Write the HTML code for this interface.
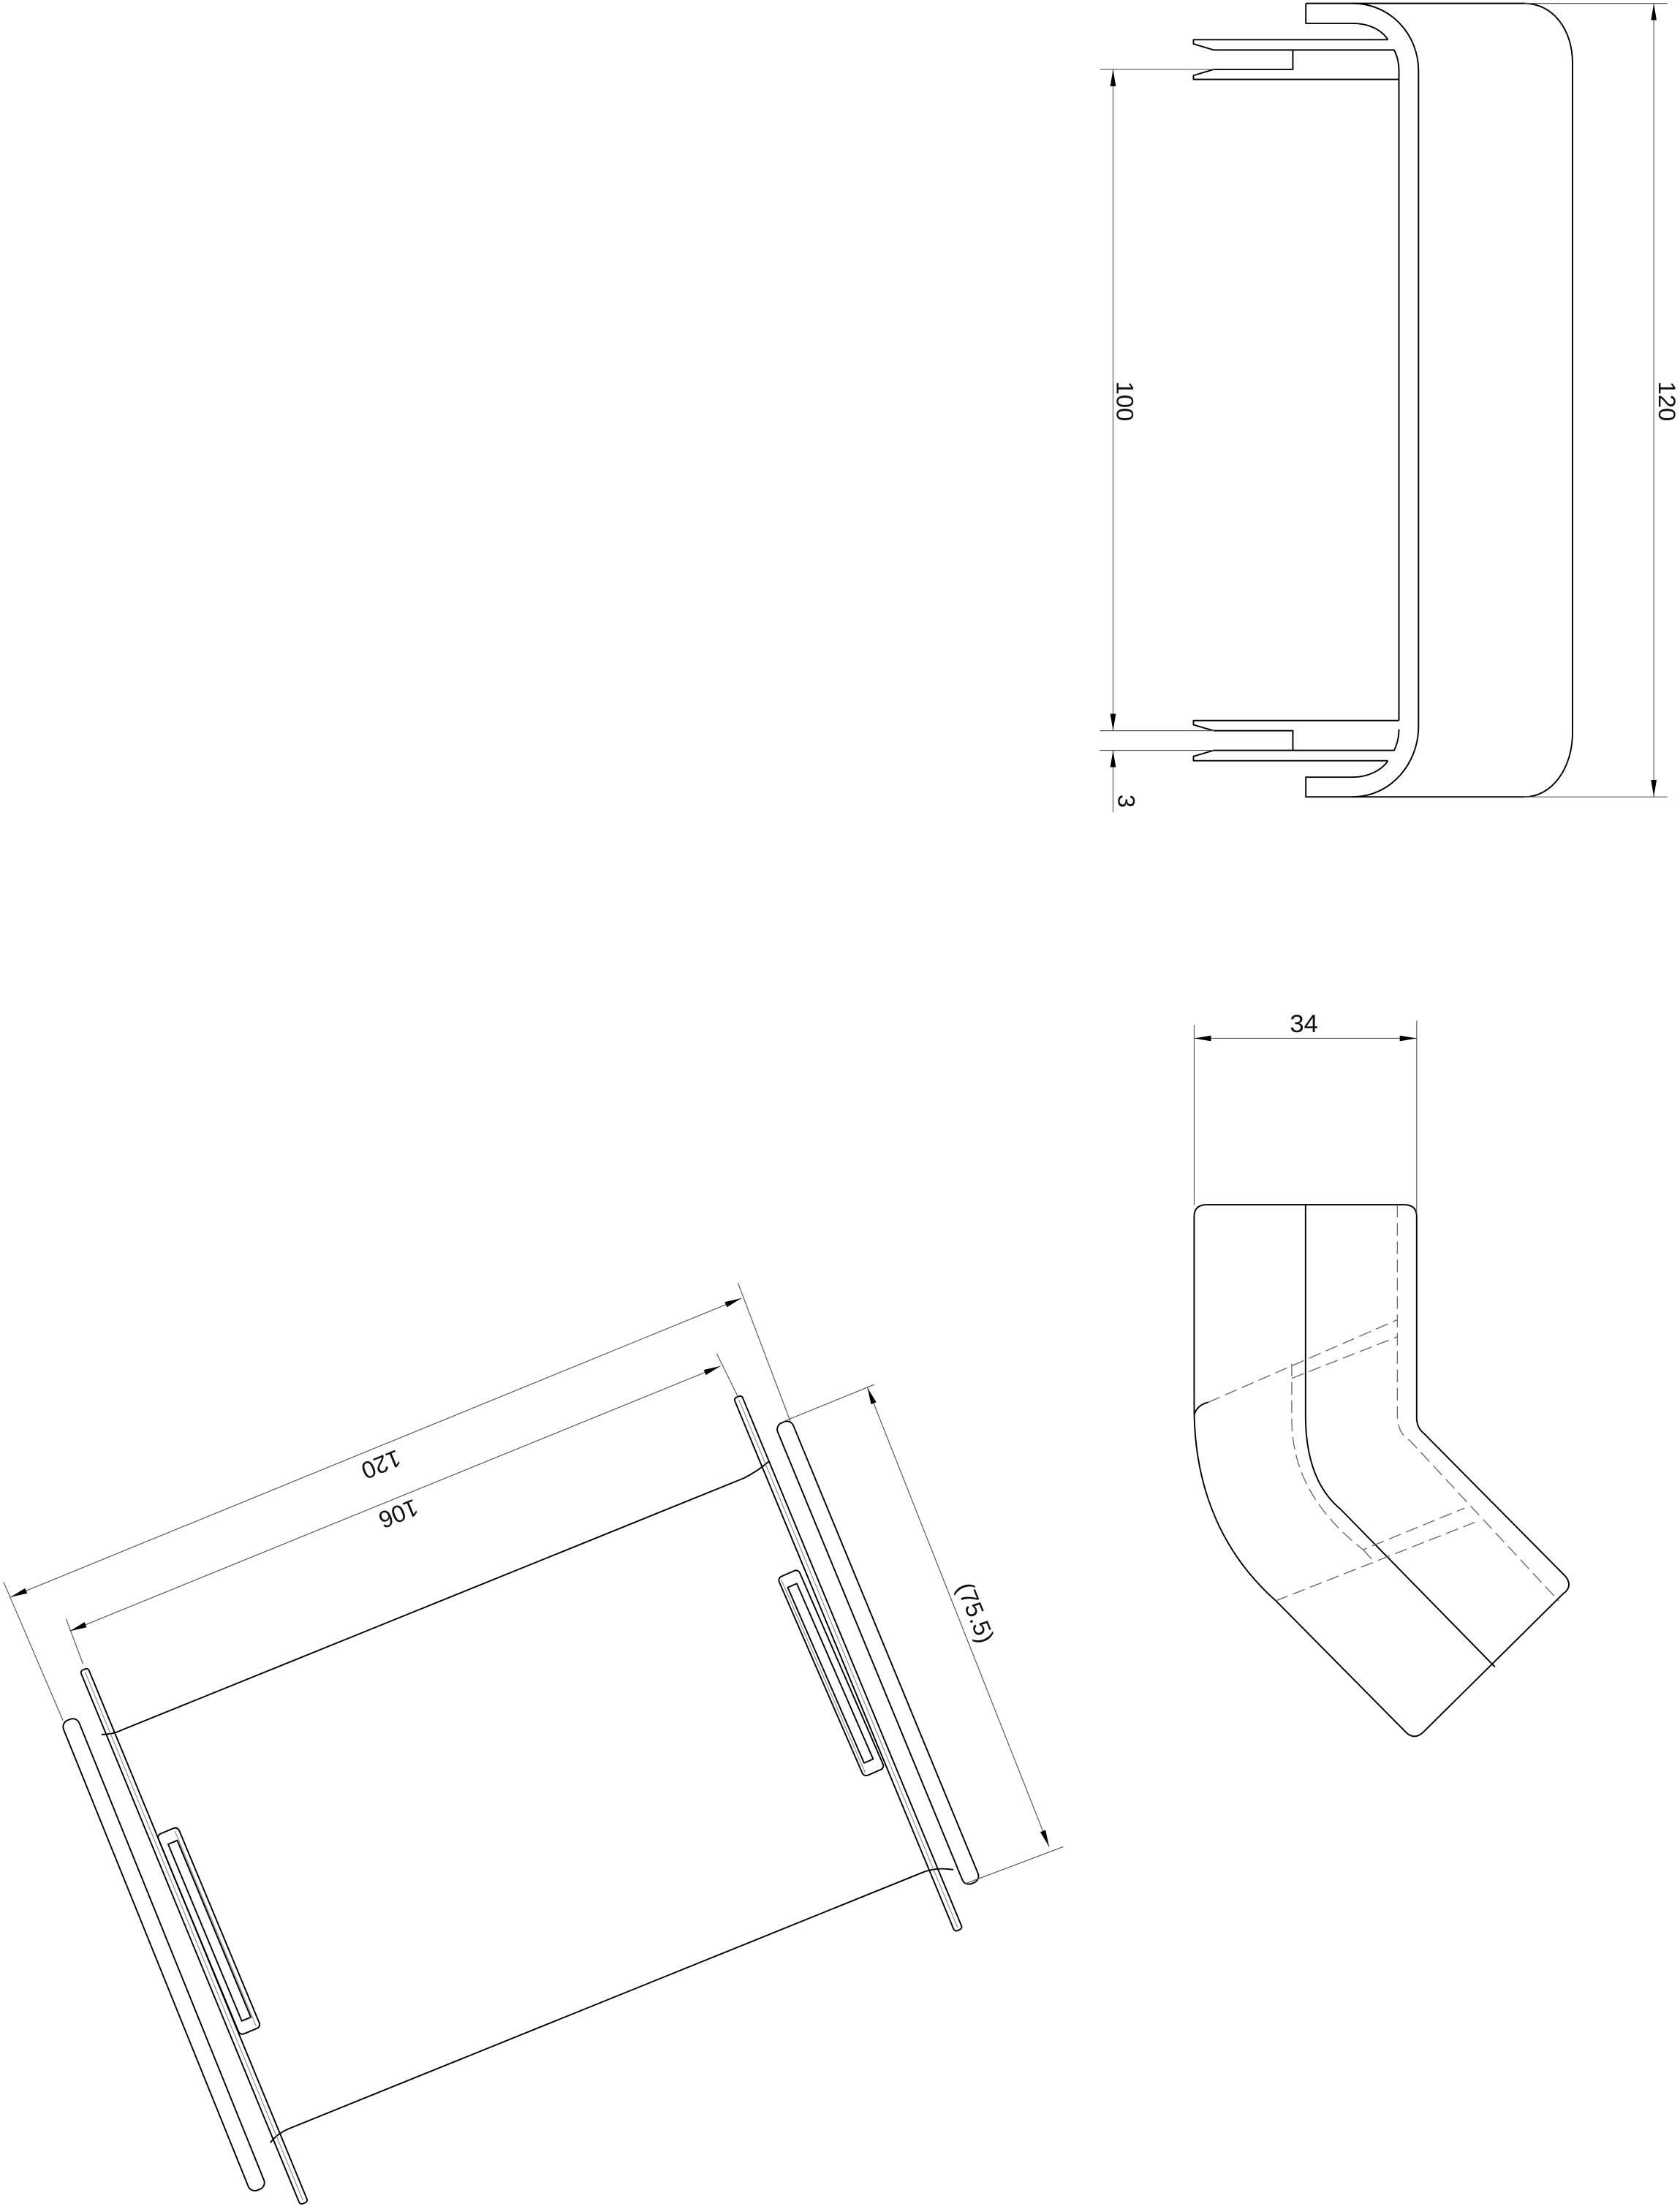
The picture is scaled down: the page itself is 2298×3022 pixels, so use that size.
<!DOCTYPE html>
<html><head><meta charset="utf-8"><style>
html,body{margin:0;padding:0;background:#fff;}
svg{display:block;}
text{font-family:"Liberation Sans",sans-serif;fill:#111;}
</style></head><body>
<svg width="2298" height="3022" viewBox="0 0 1193 1569" preserveAspectRatio="none" xmlns="http://www.w3.org/2000/svg">
<defs>
<marker id="ar" viewBox="0 0 12 4" refX="12" refY="2" markerWidth="12" markerHeight="4" markerUnits="userSpaceOnUse" orient="auto-start-reverse"><path d="M0,0 L12,2 L0,4 Z" fill="#000"/></marker>
</defs>
<g fill="none" stroke="#000" stroke-width="1" stroke-linejoin="round">
<path d="M960.2,2.4 H1082.5 C1102,2.4 1116.7,20 1116.7,45 V520 C1116.7,546 1102,566 1082.5,566 H960.2"/>
<path d="M927.3,2.4 H960.2 C988,2.4 1007.3,25 1007.3,50.2 V516 C1007.3,542 988,566 960.2,566 H927.3 V552 H960.2 C972,552 981,547 985.6,540.5"/>
<path d="M927.3,2.4 V16.6 H960.2 C972,16.6 981,21 985.6,28.2"/>
<path d="M985.6,28.2 H847.5 V31.2 L861.9,35.5 H990 Q993.4,42 993.4,50.2 V56.4 H847.5 V53.6 L861.9,49.3 H918.1 V35.5"/>
<path d="M993.4,56.4 V511.8"/>
<path d="M993.4,511.8 H847.5 V514.8 L861.9,519 H918.1 V533 H861.9 L847.5,537.2 V540.3 H985.6"/>
<path d="M918.1,533 H990 Q993.4,526 993.4,518"/>
</g>
<g fill="none" stroke="#555" stroke-width="0.6">
<line x1="781" y1="49.3" x2="861.9" y2="49.3"/>
<line x1="781" y1="519" x2="861.9" y2="519"/>
<line x1="781" y1="533" x2="861.9" y2="533"/>
<line x1="1082.5" y1="2.4" x2="1184" y2="2.4"/>
<line x1="1082.5" y1="566" x2="1184" y2="566"/>
<line x1="790.4" y1="49.3" x2="790.4" y2="519" marker-start="url(#ar)" marker-end="url(#ar)"/>
<line x1="790.4" y1="577" x2="790.4" y2="533" marker-end="url(#ar)"/>
<line x1="1174.4" y1="2.4" x2="1174.4" y2="566" marker-start="url(#ar)" marker-end="url(#ar)"/>
</g>
<text transform="translate(793,285) rotate(90)" font-size="17" text-anchor="middle">100</text>
<text transform="translate(1178,285) rotate(90)" font-size="17" text-anchor="middle">120</text>
<text transform="translate(794,569) rotate(90)" font-size="17" text-anchor="middle">3</text>

<g fill="none" stroke="#000" stroke-width="1" stroke-linejoin="round">
<path d="M848,1000 V864 Q848,855.7 857,855.7 H997 Q1006,855.7 1006,864 V1007 Q1006,1014 1011,1018 L1112,1120 Q1117,1127 1110,1132 L1011,1230 Q1005,1236 999,1231 L906,1137 C870,1105 848,1060 848,1000 Z"/>
<path d="M927.1,855.7 V1005 C927.1,1035 935,1058 952,1072 L1061.6,1184"/>
<path d="M848,1005 Q850,998 858,996"/>
</g>
<g fill="none" stroke="#666" stroke-width="0.7" stroke-dasharray="9,4">
<path d="M992.3,855.7 V1005 Q992.3,1018 1001,1023 L1106.8,1137"/>
<path d="M858,996 L992.3,937.4"/>
<path d="M917.3,979 L992.3,949.5"/>
<path d="M917.3,968.6 V1008 C917.3,1045 935,1075 968,1100.7 L1039.9,1071.2"/>
<path d="M968,1100.7 L975.9,1109.4"/>
<path d="M906,1137 L1050.7,1079.9"/>
</g>
<g fill="none" stroke="#555" stroke-width="0.6">
<line x1="848" y1="728" x2="848" y2="856"/>
<line x1="1006" y1="725" x2="1006" y2="862"/>
<line x1="848" y1="737.5" x2="1006" y2="737.5" marker-start="url(#ar)" marker-end="url(#ar)"/>
</g>
<text x="926" y="733" font-size="18" text-anchor="middle">34</text>

<g fill="none" stroke="#000" stroke-width="1" stroke-linejoin="round">
<path d="M72,1232 Q80,1232 86,1229 L528,1050 Q538,1045 546,1038"/>
<path d="M192,1522 Q196,1516 205,1512 L655,1330 Q665,1326 677,1328"/>
<g transform="translate(116.3,1388.4) rotate(68)"><rect x="-180" y="-6" width="360" height="12" rx="5"/></g>
<g transform="translate(137.8,1375.3) rotate(67.6)"><rect x="-205" y="-3" width="410" height="6" rx="2"/><line x1="-203" y1="0" x2="203" y2="0" stroke="#777" stroke-width="0.5"/></g>
<g transform="translate(140,1375) rotate(67.4)"><rect x="-77" y="-17" width="154" height="16" rx="3"/><rect x="-68" y="-13" width="136" height="7"/><line x1="-75" y1="-14" x2="75" y2="-14" stroke="#777" stroke-width="0.5"/></g>
<g transform="translate(602.3,1181.5) rotate(67.5)"><rect x="-205" y="-3" width="410" height="6" rx="2"/><line x1="-203" y1="0" x2="203" y2="0" stroke="#777" stroke-width="0.5"/></g>
<g transform="translate(623.4,1173.9) rotate(67.6)"><rect x="-177" y="-6" width="354" height="12" rx="5"/></g>
<g transform="translate(592,1187.5) rotate(66.5)"><rect x="-77" y="-6" width="154" height="16" rx="3"/><rect x="-68" y="-1" width="136" height="7"/><line x1="-75" y1="8" x2="75" y2="8" stroke="#777" stroke-width="0.5"/></g>
</g>
<g fill="none" stroke="#555" stroke-width="0.6">
<line x1="2.5" y1="1123.5" x2="44.7" y2="1222"/>
<line x1="524" y1="911.2" x2="561.3" y2="1009.7"/>
<line x1="7.5" y1="1134.4" x2="526.5" y2="922.1" marker-start="url(#ar)" marker-end="url(#ar)"/>
<line x1="47" y1="1150" x2="59" y2="1182"/>
<line x1="509" y1="961.5" x2="524" y2="992"/>
<line x1="49.7" y1="1158.5" x2="511.6" y2="970.3" marker-start="url(#ar)" marker-end="url(#ar)"/>
<line x1="556.3" y1="1009.7" x2="620.9" y2="983.4"/>
<line x1="685.4" y1="1338" x2="755" y2="1311.7"/>
<line x1="616" y1="985.6" x2="745" y2="1311.7" marker-start="url(#ar)" marker-end="url(#ar)"/>
</g>
<text transform="translate(270.7,1040.3) rotate(157.8)" font-size="17" text-anchor="middle" dominant-baseline="central">120</text>
<text transform="translate(283,1075.3) rotate(157.8)" font-size="17" text-anchor="middle" dominant-baseline="central">106</text>
<text transform="translate(692.9,1145.4) rotate(68.4)" font-size="17" text-anchor="middle" dominant-baseline="central">(75.5)</text>
</svg>
</body></html>
